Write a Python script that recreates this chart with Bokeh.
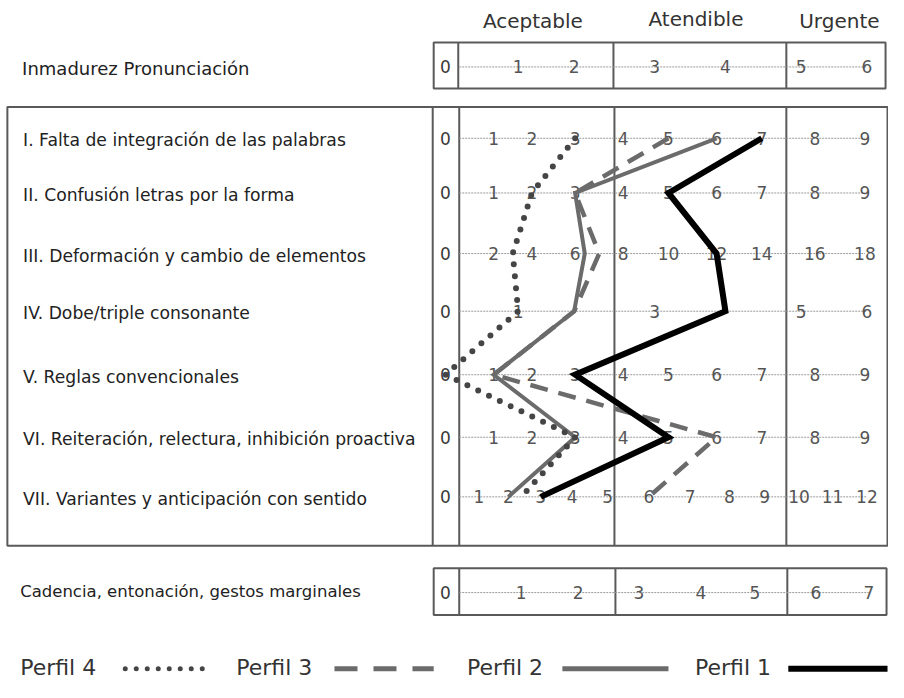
import numpy as np
from bokeh.plotting import figure
from bokeh.models import Range1d
from bokeh.core.properties import value
from bokeh.embed import file_html
from bokeh.resources import INLINE

# ---------------- DATA ----------------
zones = ["Aceptable", "Atendible", "Urgente"]
top_label = "Inmadurez Pronunciación"
bottom_label = "Cadencia, entonación, gestos marginales"
row_labels = [
    "I. Falta de integración de las palabras",
    "II. Confusión letras por la forma",
    "III. Deformación y cambio de elementos",
    "IV. Dobe/triple consonante",
    "V. Reglas convencionales",
    "VI. Reiteración, relectura, inhibición proactiva",
    "VII. Variantes y anticipación con sentido",
]
top_ticks = [0, 1, 2, 3, 4, 5, 6]
ticks_I = [0, 1, 2, 3, 4, 5, 6, 7, 8, 9]
ticks_II = [0, 1, 2, 3, 4, 5, 6, 7, 8, 9]
ticks_III = [0, 2, 4, 6, 8, 10, 12, 14, 16, 18]
ticks_IV = [0, 1, 2, 3, 4, 5, 6]
ticks_V = [0, 1, 2, 3, 4, 5, 6, 7, 8, 9]
ticks_VI = [0, 1, 2, 3, 4, 5, 6, 7, 8, 9]
ticks_VII = [0, 1, 2, 3, 4, 5, 6, 7, 8, 9, 10, 11, 12]
bottom_ticks = [0, 1, 2, 3, 4, 5, 6, 7]

# tick labels covered in the original
hidden = {("IV", 2), ("IV", 4)}

perfil_names = ["Perfil 4", "Perfil 3", "Perfil 2", "Perfil 1"]
perfil1 = [7, 5, 12, 4, 3, 5, 3]
perfil2 = [6, 3, 6.4, 2, 1, 3, 2]
perfil3 = [5, 3, 7, 2, 1, 6, 6]
perfil4 = [3, 2, 3, 1, 0, 3, 2.4]

# ---------------- LAYOUT (reference pixel space) ----------------
pos_6 = [453, 527, 584, 666, 738, 815, 882]
pos_9 = [453, 502, 541, 585, 634, 680, 729, 775, 829, 880]
pos_12 = [453, 487, 517, 550, 582, 618, 660, 702, 742, 778, 813, 847, 882]
pos_7 = [453, 530, 588, 650, 713, 768, 830, 884]

row_y = [141, 197, 259, 318, 383, 447, 508]
row_ticks = [ticks_I, ticks_II, ticks_III, ticks_IV, ticks_V, ticks_VI, ticks_VII]
row_pos = [pos_9, pos_9, pos_9, pos_6, pos_9, pos_9, pos_12]
row_ids = ["I", "II", "III", "IV", "V", "VI", "VII"]

FONT = value("DejaVu Sans")
BORDER = "#5a5a5a"
NUM_SIZE = "17px"

p = figure(width=888, height=682, x_range=Range1d(0, 904), y_range=Range1d(698, 0),
           toolbar_location=None, output_backend="svg", min_border=0)
p.axis.visible = False
p.grid.visible = False
p.outline_line_color = None
p.background_fill_color = "white"


def draw_scale(ticks, pos, y, rid=None):
    p.segment(x0=[467], y0=[y], x1=[pos[-1]], y1=[y], line_color="#9a9a9a",
              line_width=1, line_dash="2 1")
    xs, ts, cs = [], [], []
    for t, x in zip(ticks, pos):
        if rid is not None and (rid, t) in hidden:
            continue
        xs.append(x)
        ts.append(str(t))
        cs.append("#3a3a3a" if t == 0 else "#555555")
    p.text(x=xs, y=[y] * len(xs), text=ts, text_color=cs, text_font=FONT,
           text_font_size=NUM_SIZE, text_align="center", text_baseline="middle")


# header zone labels
p.text(x=[542, 708, 854], y=[21, 19, 21], text=zones, text_font=FONT,
       text_font_size="20px", text_color="#333333", text_align="center",
       text_baseline="middle")

# top box
p.quad(left=[441], right=[901], top=[43], bottom=[90], fill_color=None,
       line_color=BORDER, line_width=2)
p.segment(x0=[466, 624, 800], y0=[43] * 3, x1=[466, 624, 800], y1=[90] * 3,
          line_color=BORDER, line_width=2)
p.text(x=[22], y=[70], text=[top_label], text_font=FONT, text_font_size="18px",
       text_color="#222222", text_baseline="middle")
draw_scale(top_ticks, pos_6, 68)

# main box
p.quad(left=[7], right=[903], top=[109], bottom=[558], fill_color=None,
       line_color=BORDER, line_width=2)
p.segment(x0=[440, 467, 625, 800], y0=[109] * 4, x1=[440, 467, 625, 800], y1=[558] * 4,
          line_color=BORDER, line_width=2)
p.text(x=[23] * len(row_labels), y=[y + 2 for y in row_y], text=row_labels, text_font=FONT,
       text_font_size="17.2px", text_color="#222222", text_baseline="middle")
for t, ps, y, rid in zip(row_ticks, row_pos, row_y, row_ids):
    draw_scale(t, ps, y, rid)

# bottom box
p.quad(left=[441], right=[902], top=[581], bottom=[629], fill_color=None,
       line_color=BORDER, line_width=2)
p.segment(x0=[467, 626, 801], y0=[581] * 3, x1=[467, 626, 801], y1=[629] * 3,
          line_color=BORDER, line_width=2)
p.text(x=[20], y=[605], text=[bottom_label], text_font=FONT, text_font_size="16.5px",
       text_color="#222222", text_baseline="middle")
draw_scale(bottom_ticks, pos_7, 606)


# profiles
def prof_x(vals):
    return [float(np.interp(v, t, ps)) for v, t, ps in zip(vals, row_ticks, row_pos)]


styles = {
    "Perfil 4": dict(line_color="#454545", line_width=6, line_dash="0 12", line_cap="round"),
    "Perfil 3": dict(line_color="#6b6b6b", line_width=4.5, line_dash="18 11", line_join="miter"),
    "Perfil 2": dict(line_color="#6b6b6b", line_width=4, line_join="miter"),
    "Perfil 1": dict(line_color="#000000", line_width=6, line_join="miter"),
}
series = {"Perfil 4": perfil4, "Perfil 3": perfil3, "Perfil 2": perfil2, "Perfil 1": perfil1}
for name in ["Perfil 2", "Perfil 3", "Perfil 4", "Perfil 1"]:
    p.line(x=prof_x(series[name]), y=row_y, **styles[name])

# legend
leg_text_x = [20, 240, 475, 707]
leg_line = [(127, 207), (340, 441), (572, 680), (802, 903)]
leg_styles = {
    "Perfil 4": dict(line_color="#454545", line_width=5, line_dash="0 11", line_cap="round"),
    "Perfil 3": dict(line_color="#6b6b6b", line_width=5, line_dash="23 16"),
    "Perfil 2": dict(line_color="#6b6b6b", line_width=5),
    "Perfil 1": dict(line_color="#000000", line_width=6),
}
p.text(x=leg_text_x, y=[683] * 4, text=perfil_names, text_font=FONT, text_font_size="22px",
       text_color="#333333", text_baseline="middle")
for name, (a, b) in zip(perfil_names, leg_line):
    p.line(x=[a, b], y=[684, 684], **leg_styles[name])

open("out.html", "w").write(file_html(p, INLINE))
